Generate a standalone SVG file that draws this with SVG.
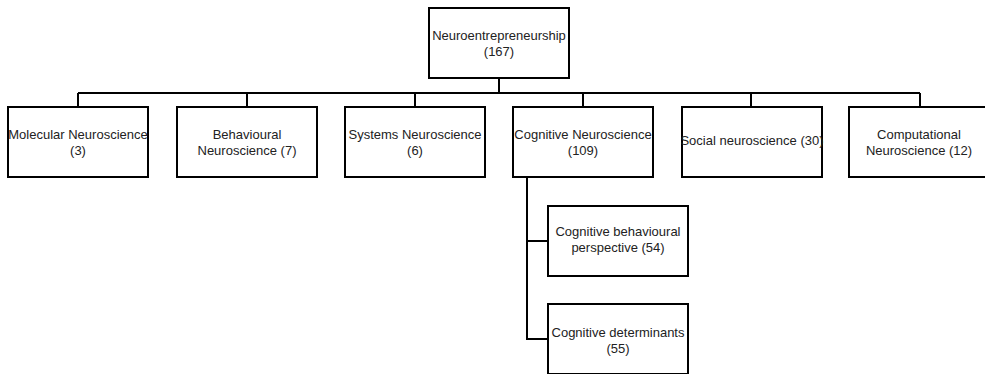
<svg xmlns="http://www.w3.org/2000/svg" width="985" height="374" viewBox="0 0 985 374">
<style>
.box{fill:#fff;stroke:#000;stroke-width:2}
.lbl{font-family:"Liberation Sans",Arial,sans-serif;font-size:13px;fill:#222;text-anchor:middle}
.con{fill:none;stroke:#000;stroke-width:2}
</style>
<rect width="985" height="374" fill="#fff"/>
<g id="connectors">
<path class="con" d="M499 78V93M78 93H920M78 93V107M247 93V107M415 93V107M583 93V107M751 93V107M920 93V107"/>
<path class="con" d="M527 177V339H548M527 241H548"/>
</g>
<g id="root"><rect class="box" x="429" y="8" width="140" height="70"/><text class="lbl" x="499" y="39.5">Neuroentrepreneurship</text><text class="lbl" x="499" y="55.5">(167)</text></g>
<g id="molecular"><rect class="box" x="8" y="107" width="140" height="70"/><text class="lbl" x="78" y="139">Molecular Neuroscience</text><text class="lbl" x="78" y="155">(3)</text></g>
<g id="behavioural"><rect class="box" x="177" y="107" width="140" height="70"/><text class="lbl" x="247" y="139">Behavioural</text><text class="lbl" x="247" y="155">Neuroscience (7)</text></g>
<g id="systems"><rect class="box" x="345" y="107" width="140" height="70"/><text class="lbl" x="415" y="139">Systems Neuroscience</text><text class="lbl" x="415" y="155">(6)</text></g>
<g id="cognitive"><rect class="box" x="513" y="107" width="140" height="70"/><text class="lbl" x="583" y="139">Cognitive Neuroscience</text><text class="lbl" x="583" y="155">(109)</text></g>
<g id="social"><rect class="box" x="682" y="107" width="140" height="70"/><text class="lbl" x="752" y="145">Social neuroscience (30)</text></g>
<g id="computational"><rect class="box" x="849" y="107" width="140" height="70"/><text class="lbl" x="919" y="139">Computational</text><text class="lbl" x="919" y="155">Neuroscience (12)</text></g>
<g id="cog-behav"><rect class="box" x="548" y="206" width="140" height="70"/><text class="lbl" x="618" y="236">Cognitive behavioural</text><text class="lbl" x="618" y="252">perspective (54)</text></g>
<g id="cog-det"><rect class="box" x="548" y="304" width="140" height="70"/><text class="lbl" x="618" y="337">Cognitive determinants</text><text class="lbl" x="618" y="353">(55)</text></g>
</svg>
